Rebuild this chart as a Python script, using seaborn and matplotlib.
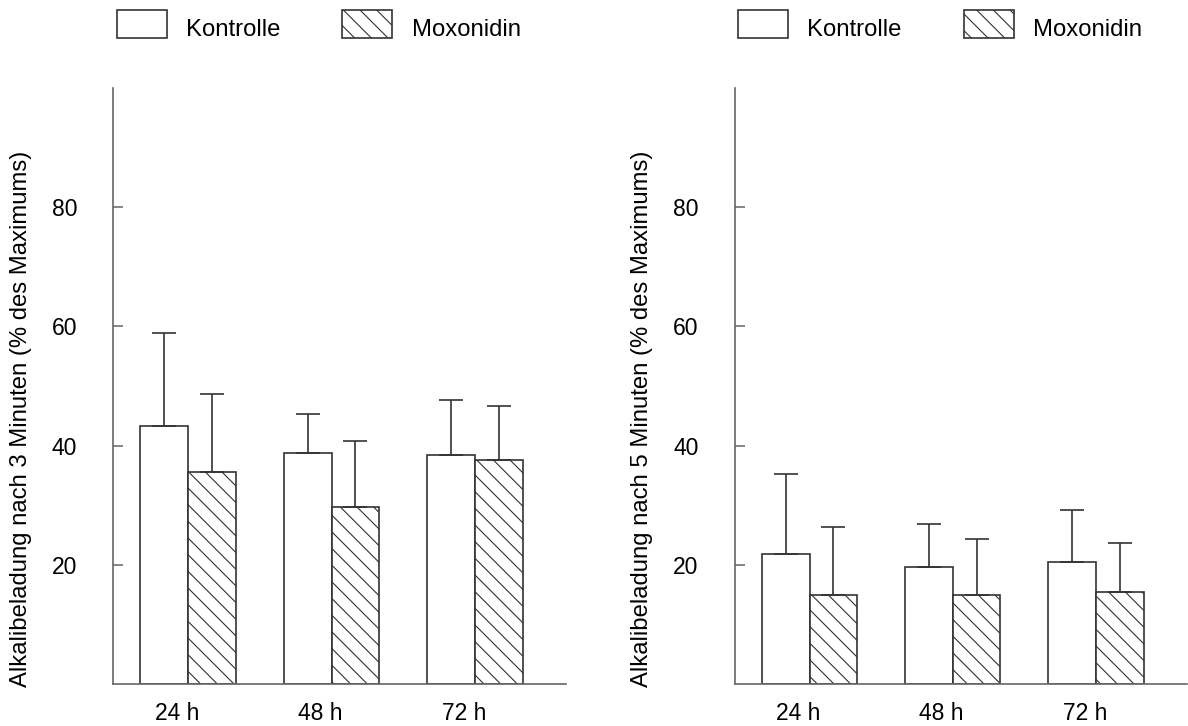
import pandas as pd
import matplotlib.pyplot as plt
import matplotlib.transforms as mtransforms
from matplotlib.patches import Patch
import seaborn as sns

# data
zeiten = ["24 h", "48 h", "72 h"]
gruppen = ["Kontrolle", "Moxonidin"]

kontrolle_3min = [43.2, 38.8, 38.4]
kontrolle_3min_sd = [15.7, 6.5, 9.3]
moxonidin_3min = [35.5, 29.7, 37.5]
moxonidin_3min_sd = [13.2, 11.1, 9.2]

kontrolle_5min = [21.8, 19.7, 20.4]
kontrolle_5min_sd = [13.4, 7.1, 8.8]
moxonidin_5min = [14.9, 15.0, 15.5]
moxonidin_5min_sd = [11.5, 9.3, 8.2]

ylabels = ["Alkalibeladung nach 3 Minuten (% des Maximums)",
           "Alkalibeladung nach 5 Minuten (% des Maximums)"]

sns.set_style("ticks")
plt.rcParams["font.family"] = ["Liberation Sans", "DejaVu Sans"]
plt.rcParams["text.color"] = "black"
plt.rcParams["xtick.labelcolor"] = "black"
plt.rcParams["ytick.labelcolor"] = "black"
plt.rcParams["axes.labelcolor"] = "black"
plt.rcParams["hatch.linewidth"] = 0.8
plt.rcParams["hatch.color"] = "#222222"

FS = 16.5
EDGE = "#333333"
AXC = "#666666"

fig = plt.figure(figsize=(11.88, 7.26), dpi=100)
axes = [fig.add_axes([0.0954, 0.0579, 0.381, 0.821]),
        fig.add_axes([0.6184, 0.0579, 0.3807, 0.821])]

panels = [
    (kontrolle_3min, kontrolle_3min_sd, moxonidin_3min, moxonidin_3min_sd),
    (kontrolle_5min, kontrolle_5min_sd, moxonidin_5min, moxonidin_5min_sd),
]

for ax, (k, k_sd, m, m_sd), ylab in zip(axes, panels, ylabels):
    df = pd.DataFrame({
        "Zeit": zeiten * 2,
        "Gruppe": [gruppen[0]] * 3 + [gruppen[1]] * 3,
        "Wert": k + m,
    })
    sns.barplot(data=df, x="Zeit", y="Wert", hue="Gruppe", order=zeiten,
                hue_order=gruppen, palette=["white", "white"],
                edgecolor=EDGE, linewidth=1.2, width=0.667, gap=0,
                errorbar=None, legend=False, saturation=1, ax=ax)

    for patch in ax.containers[1]:
        patch.set_hatch("\\\\")

    # one-sided (upper) error bars
    for cont, sd in zip(ax.containers, [k_sd, m_sd]):
        xs = [p.get_x() + p.get_width() / 2 for p in cont]
        hs = [p.get_height() for p in cont]
        ax.errorbar(xs, hs, yerr=[[0] * len(sd), sd], fmt="none",
                    ecolor=EDGE, elinewidth=1.2, capsize=8.6,
                    capthick=1.2, zorder=3)

    ax.set_xlim(-0.523, 2.636)
    ax.set_ylim(0, 100)
    ax.set_yticks([20, 40, 60, 80])
    ax.set_xlabel("")
    ax.set_ylabel(ylab, fontsize=17.2)
    ax.yaxis.set_label_coords(-0.18, 0.445)

    sns.despine(ax=ax)
    for s in ["left", "bottom"]:
        ax.spines[s].set_color(AXC)
        ax.spines[s].set_linewidth(1.2)
    ax.tick_params(axis="y", direction="in", length=7, width=1.1,
                   color=AXC, labelsize=FS, pad=26)
    ax.tick_params(axis="x", length=0, labelsize=FS, pad=13)

    offset = mtransforms.ScaledTranslation(-0.11, 0, fig.dpi_scale_trans)
    for lbl in ax.get_xticklabels():
        lbl.set_transform(lbl.get_transform() + offset)

    handles = [Patch(facecolor="white", edgecolor=EDGE, linewidth=1.2),
               Patch(facecolor="white", edgecolor=EDGE, linewidth=1.2,
                     hatch="\\\\")]
    leg = ax.legend(handles, gruppen, ncol=2, frameon=False, fontsize=17.2,
                    loc="upper left", bbox_to_anchor=(0.007, 1.13),
                    handlelength=2.1, handleheight=1.4, handletextpad=0.8,
                    columnspacing=2.6, borderaxespad=0, borderpad=0)
    for t in leg.get_texts():
        t.set_y(-4)

fig.savefig("out.png", dpi=100, facecolor="white")
